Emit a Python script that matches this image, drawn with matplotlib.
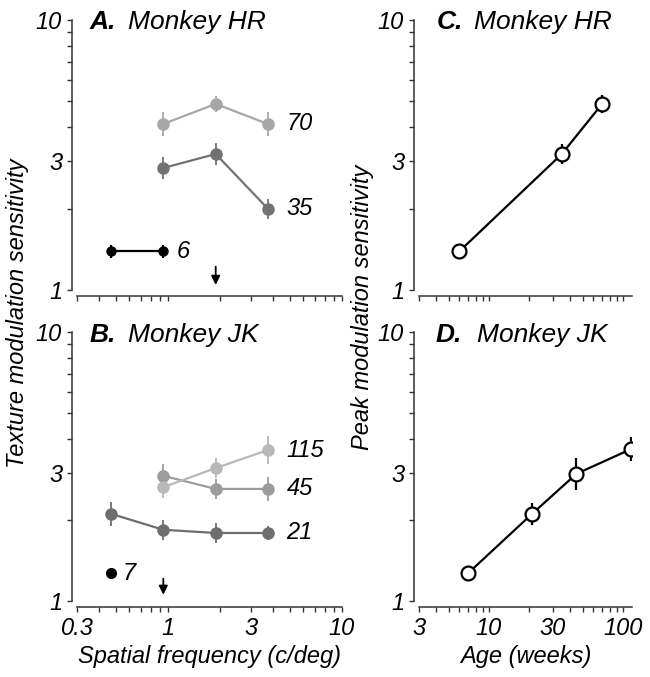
import numpy as np
import matplotlib
matplotlib.use('Agg')
import matplotlib.pyplot as plt
from matplotlib.ticker import NullFormatter, FixedLocator

plt.rcParams['font.family'] = ['Liberation Sans', 'DejaVu Sans']

# spatial frequencies (c/deg)
sf = [0.47, 0.94, 1.88, 3.75]

# Monkey HR, sensitivity vs spatial frequency, by age (weeks)
hr_70 = [4.12, 4.89, 4.12]
hr_70_err = [1.11, 1.07, 1.11]
hr_35 = [2.83, 3.19, 2.0]
hr_35_err = [1.10, 1.10, 1.09]
hr_6 = [1.39, 1.39]
hr_6_err = [1.06, 1.06]

# Monkey JK
jk_115 = [2.65, 3.12, 3.64]
jk_115_err = [1.10, 1.09, 1.13]
jk_45 = [2.92, 2.61, 2.61]
jk_45_err = [1.11, 1.09, 1.11]
jk_21 = [2.11, 1.84, 1.79, 1.79]
jk_21_err = [1.11, 1.09, 1.09, 1.06]
jk_7 = [1.27]

# peak sensitivity vs age
hr_age = [6, 35, 70]
hr_peak = [1.39, 3.19, 4.89]
hr_peak_err = [1.0, 1.09, 1.08]
jk_age = [7, 21, 45, 115]
jk_peak = [1.27, 2.11, 2.97, 3.67]
jk_peak_err = [1.0, 1.10, 1.15, 1.11]

W, H = 650, 677
fig = plt.figure(figsize=(W / 100, H / 100), dpi=100)
FS = 17


def px_axes(x0, x1, y0, y1):
    return fig.add_axes([x0 / W, 1 - y1 / H, (x1 - x0) / W, (y1 - y0) / H])


def yerr(y, f):
    y = np.array(y)
    f = np.array(f)
    return [y - y / f, y * f - y]


def style(ax, xlim, xmaj, xmin, xlabels):
    ax.set_xscale('log')
    ax.set_yscale('log')
    ax.set_xlim(*xlim)
    ax.set_ylim(1, 10)
    for s in ['top', 'right']:
        ax.spines[s].set_visible(False)
    ax.spines['left'].set_position(('outward', 3.6))
    ax.spines['bottom'].set_position(('outward', 4.3))
    for s in ['left', 'bottom']:
        ax.spines[s].set_linewidth(1.1)
        ax.spines[s].set_color('#333333')
    ax.yaxis.set_major_locator(FixedLocator([1, 3, 10]))
    ax.yaxis.set_minor_locator(FixedLocator([2, 4, 5, 6, 7, 8, 9]))
    ax.set_yticklabels(['1', '3', '10'])
    ax.yaxis.set_minor_formatter(NullFormatter())
    ax.xaxis.set_major_locator(FixedLocator(xmaj))
    ax.xaxis.set_minor_locator(FixedLocator(xmin))
    ax.xaxis.set_minor_formatter(NullFormatter())
    if xlabels:
        ax.set_xticklabels([('%g' % v) for v in xmaj])
    else:
        ax.set_xticklabels([])
    ax.tick_params(which='both', direction='out', length=3.6, width=1.0,
                   color='#333333', labelsize=FS, pad=3.5)
    for lab in ax.get_xticklabels() + ax.get_yticklabels():
        lab.set_fontstyle('italic')


def gray_series(ax, x, y, f, color, size=8):
    ax.errorbar(x, y, yerr=yerr(y, f), fmt='none', ecolor=color,
                elinewidth=1.3, linestyle=(0, (1.5, 1.5)), zorder=1)
    ax.plot(x, y, '-o', color=color, lw=1.6, ms=size, mec=color, zorder=2)


def label(ax, x, y, s):
    ax.text(x, y, s, fontsize=FS, fontstyle='italic', ha='left', va='center')


def title(x_letter, x_name, y, letter, name):
    fig.text(x_letter / W, 1 - y / H, letter, fontsize=19, fontweight='bold',
             fontstyle='italic', va='baseline')
    fig.text(x_name / W, 1 - y / H, name, fontsize=19, fontstyle='italic', va='baseline')


sf_maj = [0.3, 1, 3, 10]
sf_min = [0.4, 0.5, 0.6, 0.7, 0.8, 0.9, 2, 4, 5, 6, 7, 8, 9]
age_maj = [3, 10, 30, 100]
age_min = [4, 5, 6, 7, 8, 9, 20, 40, 50, 60, 70, 80, 90]

# A. Monkey HR
axA = px_axes(77, 342, 20, 290)
style(axA, (0.3, 10), sf_maj, sf_min, False)
gray_series(axA, sf[1:], hr_70, hr_70_err, '#a6a6a6')
gray_series(axA, sf[1:], hr_35, hr_35_err, '#727272')
axA.errorbar(sf[:2], hr_6, yerr=yerr(hr_6, hr_6_err), fmt='-o', color='black',
             lw=1.6, ms=6.5, elinewidth=1.5, zorder=3)
label(axA, 4.8, 4.12, '70')
label(axA, 4.8, 2.0, '35')
label(axA, 1.12, 1.39, '6')
axA.annotate('', xy=(1.88, 1.02), xytext=(1.88, 1.25),
             arrowprops=dict(arrowstyle='-|>', color='black', lw=1.3, mutation_scale=13))
title(90, 128, 29, 'A.', 'Monkey HR')

# B. Monkey JK
axB = px_axes(77, 342, 332, 601)
style(axB, (0.3, 10), sf_maj, sf_min, True)
gray_series(axB, sf[1:], jk_45, jk_45_err, '#9c9c9c')
gray_series(axB, sf[1:], jk_115, jk_115_err, '#b8b8b8')
gray_series(axB, sf, jk_21, jk_21_err, '#6e6e6e')
axB.plot(sf[:1], jk_7, 'o', color='black', ms=7, zorder=3)
label(axB, 4.8, 3.64, '115')
label(axB, 4.8, 2.61, '45')
label(axB, 4.8, 1.79, '21')
label(axB, 0.55, 1.27, '7')
axB.annotate('', xy=(0.94, 1.03), xytext=(0.94, 1.24),
             arrowprops=dict(arrowstyle='-|>', color='black', lw=1.3, mutation_scale=13))
title(90, 128, 342, 'B.', 'Monkey JK')

# C. peak, Monkey HR
axC = px_axes(419, 632, 20, 290)
style(axC, (3, 117), age_maj, age_min, False)
axC.errorbar(hr_age, hr_peak, yerr=yerr(hr_peak, hr_peak_err), fmt='-o', color='black',
             lw=1.6, ms=10, mfc='white', mec='black', mew=1.6, elinewidth=1.6)
title(437, 474, 29, 'C.', 'Monkey HR')

# D. peak, Monkey JK
axD = px_axes(419, 632, 332, 601)
style(axD, (3, 117), age_maj, age_min, True)
axD.errorbar(jk_age, jk_peak, yerr=yerr(jk_peak, jk_peak_err), fmt='-o', color='black',
             lw=1.6, ms=10, mfc='white', mec='black', mew=1.6, elinewidth=1.6)
title(436, 477, 342, 'D.', 'Monkey JK')

fig.text(18 / W, 1 - 313 / H, 'Texture modulation sensitivity', rotation=90,
         fontsize=FS, fontstyle='italic', ha='center', va='center')
fig.text(363 / W, 1 - 307 / H, 'Peak modulation sensitivity', rotation=90,
         fontsize=FS, fontstyle='italic', ha='center', va='center')
fig.text(210 / W, 1 - 656 / H, 'Spatial frequency (c/deg)',
         fontsize=FS, fontstyle='italic', ha='center', va='center')
fig.text(526 / W, 1 - 656 / H, 'Age (weeks)',
         fontsize=FS, fontstyle='italic', ha='center', va='center')

fig.savefig('out.png', dpi=100)
